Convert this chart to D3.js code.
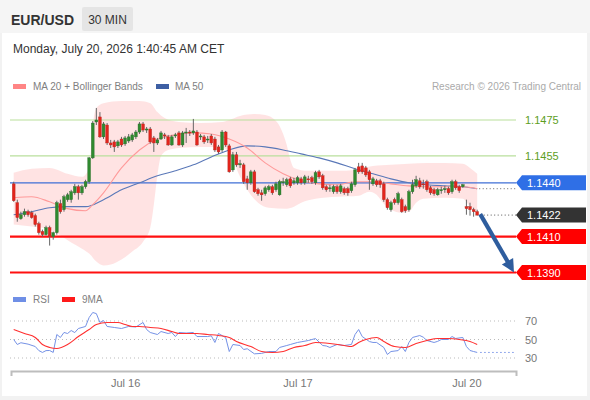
<!DOCTYPE html>
<html><head><meta charset="utf-8">
<script src="https://cdn.jsdelivr.net/npm/d3@7"></script>
<style>
html,body{margin:0;padding:0;background:#f2f2f2;}
svg{display:block;font-family:"Liberation Sans",Arial,sans-serif;}
</style></head><body>
<svg id="c" width="590" height="400"></svg>
<script>
// ---------- DATA ----------
const symbol = "EUR/USD";
const timeframe = "30 MIN";
const dateText = "Monday, July 20, 2026 1:40:45 AM CET";
const tickIdx = [31, 79, 126];
const tickLabels = ["Jul 16", "Jul 17", "Jul 20"];

const opens = [1.14394,1.14289,1.14200,1.14222,1.14239,1.14233,1.14217,1.14172,1.14128,1.14111,
1.14150,1.14100,1.14122,1.14283,1.14250,1.14306,1.14306,1.14344,1.14378,1.14344,
1.14378,1.14406,1.14539,1.14739,1.14767,1.14656,1.14722,1.14622,1.14628,1.14606,
1.14644,1.14617,1.14633,1.14639,1.14656,1.14683,1.14728,1.14694,1.14700,1.14650,
1.14622,1.14644,1.14667,1.14656,1.14611,1.14661,1.14678,1.14611,1.14678,1.14683,
1.14678,1.14683,1.14656,1.14656,1.14639,1.14661,1.14644,1.14600,1.14583,1.14683,
1.14606,1.14472,1.14556,1.14500,1.14500,1.14422,1.14400,1.14461,1.14361,1.14344,
1.14339,1.14361,1.14378,1.14361,1.14333,1.14400,1.14389,1.14422,1.14400,1.14400,
1.14422,1.14400,1.14422,1.14428,1.14400,1.14461,1.14439,1.14378,1.14367,1.14350,
1.14378,1.14350,1.14367,1.14367,1.14356,1.14389,1.14489,1.14494,1.14483,1.14461,
1.14394,1.14411,1.14411,1.14394,1.14306,1.14250,1.14306,1.14289,1.14306,1.14267,
1.14250,1.14350,1.14383,1.14411,1.14394,1.14406,1.14372,1.14361,1.14333,1.14356,
1.14361,1.14367,1.14350,1.14406,1.14378,1.14378,1.14267,1.14267,1.14250,1.14239];
const highs = [1.14406,1.14306,1.14239,1.14256,1.14250,1.14244,1.14228,1.14183,1.14139,1.14161,
1.14161,1.14128,1.14300,1.14306,1.14333,1.14344,1.14361,1.14394,1.14389,1.14389,
1.14417,1.14544,1.14744,1.14817,1.14794,1.14739,1.14733,1.14639,1.14639,1.14639,
1.14656,1.14661,1.14672,1.14678,1.14694,1.14739,1.14739,1.14711,1.14711,1.14661,
1.14650,1.14689,1.14678,1.14667,1.14667,1.14678,1.14689,1.14689,1.14706,1.14694,
1.14756,1.14694,1.14672,1.14667,1.14661,1.14672,1.14656,1.14611,1.14694,1.14689,
1.14617,1.14572,1.14572,1.14528,1.14511,1.14439,1.14472,1.14472,1.14372,1.14361,
1.14383,1.14389,1.14389,1.14406,1.14417,1.14428,1.14428,1.14433,1.14428,1.14439,
1.14433,1.14444,1.14439,1.14439,1.14467,1.14472,1.14450,1.14389,1.14389,1.14389,
1.14389,1.14394,1.14378,1.14378,1.14406,1.14483,1.14511,1.14511,1.14494,1.14472,
1.14433,1.14422,1.14422,1.14406,1.14317,1.14300,1.14317,1.14350,1.14317,1.14278,
1.14361,1.14417,1.14439,1.14428,1.14417,1.14417,1.14383,1.14372,1.14372,1.14378,
1.14383,1.14378,1.14417,1.14417,1.14389,1.14394,1.14306,1.14289,1.14261,1.14250];
const lows = [1.14294,1.14183,1.14194,1.14211,1.14211,1.14200,1.14156,1.14111,1.14100,1.14106,
1.14050,1.14083,1.14111,1.14228,1.14239,1.14294,1.14289,1.14333,1.14306,1.14333,
1.14367,1.14394,1.14533,1.14722,1.14650,1.14644,1.14611,1.14594,1.14572,1.14594,
1.14600,1.14606,1.14622,1.14628,1.14644,1.14672,1.14683,1.14678,1.14617,1.14572,
1.14611,1.14639,1.14644,1.14606,1.14606,1.14650,1.14606,1.14600,1.14622,1.14661,
1.14667,1.14606,1.14639,1.14617,1.14622,1.14611,1.14572,1.14561,1.14572,1.14600,
1.14456,1.14461,1.14489,1.14483,1.14394,1.14361,1.14389,1.14344,1.14328,1.14300,
1.14328,1.14350,1.14333,1.14350,1.14328,1.14383,1.14378,1.14372,1.14389,1.14389,
1.14389,1.14389,1.14400,1.14394,1.14389,1.14422,1.14361,1.14350,1.14350,1.14339,
1.14339,1.14339,1.14333,1.14328,1.14344,1.14378,1.14450,1.14450,1.14433,1.14361,
1.14383,1.14378,1.14372,1.14294,1.14250,1.14239,1.14278,1.14278,1.14233,1.14233,
1.14239,1.14339,1.14372,1.14367,1.14367,1.14350,1.14333,1.14328,1.14328,1.14339,
1.14344,1.14333,1.14339,1.14361,1.14344,1.14372,1.14222,1.14217,1.14211,1.14217];
const closes = [1.14300,1.14206,1.14222,1.14239,1.14222,1.14206,1.14167,1.14122,1.14111,1.14150,
1.14100,1.14122,1.14289,1.14239,1.14322,1.14333,1.14350,1.14378,1.14344,1.14378,
1.14406,1.14539,1.14733,1.14750,1.14656,1.14728,1.14622,1.14611,1.14600,1.14628,
1.14611,1.14650,1.14656,1.14667,1.14683,1.14728,1.14694,1.14700,1.14628,1.14622,
1.14639,1.14678,1.14661,1.14611,1.14656,1.14667,1.14611,1.14678,1.14683,1.14678,
1.14689,1.14611,1.14661,1.14628,1.14644,1.14622,1.14583,1.14572,1.14683,1.14611,
1.14461,1.14556,1.14500,1.14506,1.14406,1.14400,1.14461,1.14350,1.14339,1.14333,
1.14372,1.14378,1.14344,1.14394,1.14406,1.14406,1.14417,1.14383,1.14411,1.14428,
1.14400,1.14433,1.14417,1.14406,1.14456,1.14433,1.14372,1.14361,1.14372,1.14378,
1.14350,1.14383,1.14344,1.14344,1.14394,1.14472,1.14461,1.14461,1.14444,1.14417,
1.14422,1.14389,1.14389,1.14306,1.14261,1.14289,1.14289,1.14339,1.14239,1.14244,
1.14350,1.14389,1.14417,1.14378,1.14389,1.14361,1.14344,1.14339,1.14361,1.14361,
1.14367,1.14344,1.14406,1.14372,1.14356,1.14389,1.14256,1.14250,1.14239,1.14220];

const ma20Idx = [0,5,10,15,20,22,25,30,35,40,45,50,55,60,65,70,75,80,85,90,95,100,105,110,115,120,125,129];
const ma20 = [1.14317,1.14322,1.14294,1.14256,1.14244,1.14278,1.14344,1.14483,1.14583,1.14644,1.14667,1.14678,1.14672,1.14644,1.14594,1.14511,1.14450,1.14411,1.14394,1.14389,1.14406,1.14406,1.14394,1.14383,1.14378,1.14378,1.14378,1.14367];
const ma50Idx = [0,5,10,15,20,25,30,35,40,45,50,55,60,65,70,75,80,85,90,95,100,105,110,115,120,125,129];
const ma50 = [1.14222,1.14239,1.14261,1.14267,1.14267,1.14306,1.14361,1.14400,1.14439,1.14467,1.14500,1.14544,1.14583,1.14606,1.14600,1.14583,1.14561,1.14539,1.14511,1.14478,1.14450,1.14422,1.14400,1.14389,1.14383,1.14378,1.14367];
const bbUpperIdx = [0,5,10,15,19,21,22,23,25,30,35,38,40,42,46,52,58,60,63,67,70,72,74,76,77,78,82,90,95,100,105,110,115,120,125,127,129];
const bbUpper = [1.14456,1.14478,1.14483,1.14450,1.14433,1.14483,1.14722,1.14817,1.14844,1.14856,1.14856,1.14844,1.14794,1.14761,1.14739,1.14733,1.14739,1.14750,1.14772,1.14783,1.14778,1.14761,1.14717,1.14611,1.14528,1.14483,1.14467,1.14467,1.14472,1.14494,1.14500,1.14506,1.14511,1.14511,1.14506,1.14483,1.14450];
const bbLowerIdx = [0,5,10,13,16,19,21,23,25,27,30,33,36,38,39,40,41,43,46,52,57,59,61,63,65,68,71,76,78,80,84,90,96,99,101,103,105,108,110,112,114,120,125,127,129];
const bbLower = [1.14167,1.14156,1.14139,1.14106,1.14067,1.14033,1.14006,1.13961,1.13939,1.13944,1.13972,1.14017,1.14072,1.14150,1.14278,1.14444,1.14550,1.14583,1.14594,1.14600,1.14600,1.14589,1.14528,1.14433,1.14361,1.14289,1.14261,1.14256,1.14267,1.14289,1.14311,1.14322,1.14328,1.14350,1.14333,1.14283,1.14250,1.14233,1.14239,1.14289,1.14311,1.14317,1.14311,1.14267,1.14222];

const rsiIdx = [0,1,2,4,6,7,8,9,10,11,12,13,14,15,16,17,18,20,21,22,23,24,25,26,28,30,32,34,36,37,38,40,41,43,44,45,46,48,50,51,54,55,56,57,59,60,61,63,64,65,67,69,71,73,74,76,77,79,80,82,83,84,86,87,88,90,92,94,95,96,97,99,100,101,103,104,105,107,108,109,110,111,113,114,115,117,118,119,121,122,123,125,126,127,128,129];
const rsi = [50,44.6,46.5,45,42.4,38,36,38,38.1,36,55.4,52.2,57.6,56.5,59.7,57.5,61.9,64.1,73.8,79.2,78,68.4,70.5,64.1,63,61.9,64.1,63.5,68.4,60.8,57.6,55.4,58.6,56.5,57.6,53.2,57.6,57,57.6,53.2,53.2,54,46.8,56.5,52,37,44.6,43.5,39.2,40,34.5,35,37,37,41.4,43.5,44.6,46.8,47.5,48.9,50,51,43.5,43,41.4,44.6,43.5,44.6,55.4,60.8,53.2,47.8,46.8,46.8,41.4,33.8,37,38,42.4,37,46.8,52.2,54.3,52.5,48.9,46.8,48,50,50,53.2,51.1,52.2,42.4,38.1,37,36];
const rsiMaIdx = [0,3,6,8,10,12,15,18,21,23,26,29,31,33,35,38,41,44,46,49,51,54,57,60,62,66,69,72,75,78,81,84,88,92,94,96,98,101,103,106,109,112,115,118,121,124,127,129];
const rsiMa = [60.8,56.5,52.2,44.6,41.4,40.3,44.6,53.2,60.8,66.2,68.4,68.4,66.2,64.1,64.1,63,61.9,58.6,56.5,56.5,56.5,55.4,54.3,52.2,47.8,42.4,37,35.9,37,41.4,43.5,46.8,45.7,43.5,42.4,46.8,50,52.2,47.8,42.4,41.4,45.7,48.9,51.1,51.1,50,47.8,44.6];
const rsiLevels = [70, 50, 30];

const resistances = [1.1475, 1.1455];
const pivot = 1.1440;
const supports = [1.1410, 1.1390];
const lastPrice = 1.1422;

// ---------- LAYOUT ----------
const svg = d3.select("#c");
svg.append("rect").attr("width",590).attr("height",400).attr("fill","#f2f2f2");
svg.append("rect").attr("x",0).attr("y",0).attr("width",590).attr("height",33).attr("fill","#f5f5f5");
svg.append("rect").attr("x",2).attr("y",33).attr("width",585).attr("height",363).attr("fill","#ffffff");

// header
svg.append("text").attr("x",11).attr("y",25).attr("font-size",14).attr("font-weight","bold").attr("fill","#333").text(symbol);
svg.append("rect").attr("x",82).attr("y",7).attr("width",51).attr("height",24).attr("rx",2).attr("fill","#e5e5e5");
svg.append("text").attr("x",107.5).attr("y",23.5).attr("text-anchor","middle").attr("font-size",12).attr("fill","#333").text(timeframe);
svg.append("text").attr("x",13).attr("y",53).attr("font-size",12).attr("fill","#333").text(dateText);

// legend
svg.append("rect").attr("x",13).attr("y",84).attr("width",13).attr("height",5).attr("fill","#ff8585");
svg.append("text").attr("x",33).attr("y",90).attr("font-size",10).attr("fill","#808080").text("MA 20 + Bollinger Bands");
svg.append("rect").attr("x",156).attr("y",84).attr("width",13).attr("height",5).attr("fill","#3d5fa3");
svg.append("text").attr("x",175).attr("y",90).attr("font-size",10).attr("fill","#808080").text("MA 50");
svg.append("text").attr("x",581).attr("y",90).attr("text-anchor","end").attr("font-size",10).attr("fill","#aaa").text("Research \u00a9 2026 Trading Central");

// scales
const x = d3.scaleLinear().domain([-0.75, 139.8]).range([11, 516]);
const y = d3.scaleLinear().domain([1.1390, 1.1475]).range([272.5, 120]);
const ry = d3.scaleLinear().domain([30, 70]).range([358, 321]);
const X0 = 10, X1 = 516;

const g = svg.append("g");

// Bollinger band fill
const upPts = bbUpperIdx.map((d,i)=>[x(d), y(bbUpper[i])]);
const loPts = bbLowerIdx.map((d,i)=>[x(d), y(bbLower[i])]).reverse();
const lineM = d3.line().curve(d3.curveMonotoneX);
const bandPath = lineM(upPts) + "L" + lineM(loPts).slice(1) + "Z";
g.append("path").attr("d", bandPath).attr("fill","#ffdede").attr("opacity",0.85);

// level lines
resistances.forEach(p=>{
  g.append("line").attr("x1",X0).attr("x2",X1).attr("y1",y(p)).attr("y2",y(p)).attr("stroke","#b9df9c").attr("stroke-width",1.2);
  g.append("text").attr("x",525).attr("y",y(p)+4).attr("font-size",11).attr("fill","#5d9e1e").text(p.toFixed(4));
});
g.append("line").attr("x1",X0).attr("x2",X1).attr("y1",y(pivot)).attr("y2",y(pivot)).attr("stroke","#3f6fd6").attr("stroke-width",1.3);
supports.forEach(p=>{
  g.append("line").attr("x1",X0).attr("x2",X1).attr("y1",y(p)).attr("y2",y(p)).attr("stroke","#ff1010").attr("stroke-width",2.2);
});

// MA lines
g.append("path").attr("d", d3.line().curve(d3.curveMonotoneX)(ma50Idx.map((d,i)=>[x(d),y(ma50[i])])))
  .attr("fill","none").attr("stroke","#5a78b8").attr("stroke-width",1.1);
g.append("path").attr("d", d3.line().curve(d3.curveMonotoneX)(ma20Idx.map((d,i)=>[x(d),y(ma20[i])])))
  .attr("fill","none").attr("stroke","#ff9a9a").attr("stroke-width",1.1);

// candles
const N = closes.length;
const cg = g.append("g");
for (let i=0;i<N;i++){
  const up = closes[i] >= opens[i];
  cg.append("line").attr("x1",x(i)).attr("x2",x(i)).attr("y1",y(highs[i])).attr("y2",y(lows[i]))
    .attr("stroke","#666").attr("stroke-width",1);
  const top = y(Math.max(opens[i],closes[i])), bot = y(Math.min(opens[i],closes[i]));
  cg.append("rect").attr("x",x(i)-1.4).attr("width",2.8).attr("y",top).attr("height",Math.max(1,bot-top))
    .attr("fill", up ? "#2f8a2f" : "#e3241c").attr("stroke", up ? "#2b6b2b" : "#b52a22").attr("stroke-width",0.4);
}

// dotted extensions
const lastX = x(N-1);
g.append("line").attr("x1",lastX+2).attr("x2",X1).attr("y1",y(ma50[ma50.length-1])).attr("y2",y(ma50[ma50.length-1]))
  .attr("stroke","#666").attr("stroke-width",1).attr("stroke-dasharray","1,2.5");
g.append("line").attr("x1",lastX+3).attr("x2",X1).attr("y1",y(lastPrice)).attr("y2",y(lastPrice))
  .attr("stroke","#555").attr("stroke-width",1).attr("stroke-dasharray","1,2.5");

// tags
function tag(p, color){
  const cy = y(p);
  g.append("path").attr("d",`M516,${cy} L522,${cy-7.5} L586,${cy-7.5} L586,${cy+7.5} L522,${cy+7.5} Z`).attr("fill",color);
  g.append("text").attr("x",527).attr("y",cy+4).attr("font-size",11).attr("fill","#fff").text(p.toFixed(4));
}
tag(pivot, "#2f6fe6");
tag(lastPrice, "#333333");
supports.forEach(p=>tag(p, "#ff0000"));

// forecast arrow
const ax0 = lastX+3, ay0 = y(lastPrice)-1;
const ax1 = X1-2, ay1 = y(supports[1]);
const dx = ax1-ax0, dy = ay1-ay0, L = Math.hypot(dx,dy), ux = dx/L, uy = dy/L;
const hl = 13, hw = 6.5;
const bx = ax1-ux*hl, by = ay1-uy*hl;
g.append("line").attr("x1",ax0).attr("y1",ay0).attr("x2",bx+ux*2).attr("y2",by+uy*2).attr("stroke","#2e5d9e").attr("stroke-width",4.2);
g.append("path").attr("d",`M${ax1},${ay1} L${bx-uy*hw},${by+ux*hw} L${bx+uy*hw},${by-ux*hw} Z`).attr("fill","#2e5d9e");

// RSI panel
svg.append("rect").attr("x",13).attr("y",297).attr("width",13).attr("height",5).attr("fill","#6f8fe6");
svg.append("text").attr("x",33).attr("y",303).attr("font-size",10).attr("fill","#808080").text("RSI");
svg.append("rect").attr("x",62).attr("y",297).attr("width",13).attr("height",5).attr("fill","#ff1a1a");
svg.append("text").attr("x",82).attr("y",303).attr("font-size",10).attr("fill","#808080").text("9MA");

rsiLevels.forEach(v=>{
  svg.append("line").attr("x1",X0).attr("x2",X1).attr("y1",ry(v)).attr("y2",ry(v))
    .attr("stroke","#bbb").attr("stroke-width",1).attr("stroke-dasharray","1,3");
  svg.append("text").attr("x",525).attr("y",ry(v)+4).attr("font-size",11).attr("fill","#777").text(v);
});
svg.append("path").attr("d", d3.line()(rsiIdx.map((d,i)=>[x(d), ry(rsi[i])])))
  .attr("fill","none").attr("stroke","#7592e6").attr("stroke-width",1);
svg.append("path").attr("d", d3.line().curve(d3.curveMonotoneX)(rsiMaIdx.map((d,i)=>[x(d), ry(rsiMa[i])])))
  .attr("fill","none").attr("stroke","#ff3030").attr("stroke-width",1.1);
svg.append("line").attr("x1",x(rsiIdx[rsiIdx.length-1])+3).attr("x2",X1)
  .attr("y1",ry(rsi[rsi.length-1])).attr("y2",ry(rsi[rsi.length-1]))
  .attr("stroke","#7592e6").attr("stroke-width",1).attr("stroke-dasharray","1.5,2.5");

// x axis
const axis = d3.axisBottom(x).tickValues(tickIdx).tickFormat((d,i)=>tickLabels[i])
  .tickSizeInner(0).tickSizeOuter(5).tickPadding(8);
const ag = svg.append("g").attr("transform","translate(0,371)").call(axis);
ag.select(".domain").attr("stroke","#bdbdbd").attr("stroke-width",2);
ag.selectAll("text").attr("font-size",11).attr("fill","#777").attr("font-family","Liberation Sans, Arial, sans-serif");
</script>
</body></html>
